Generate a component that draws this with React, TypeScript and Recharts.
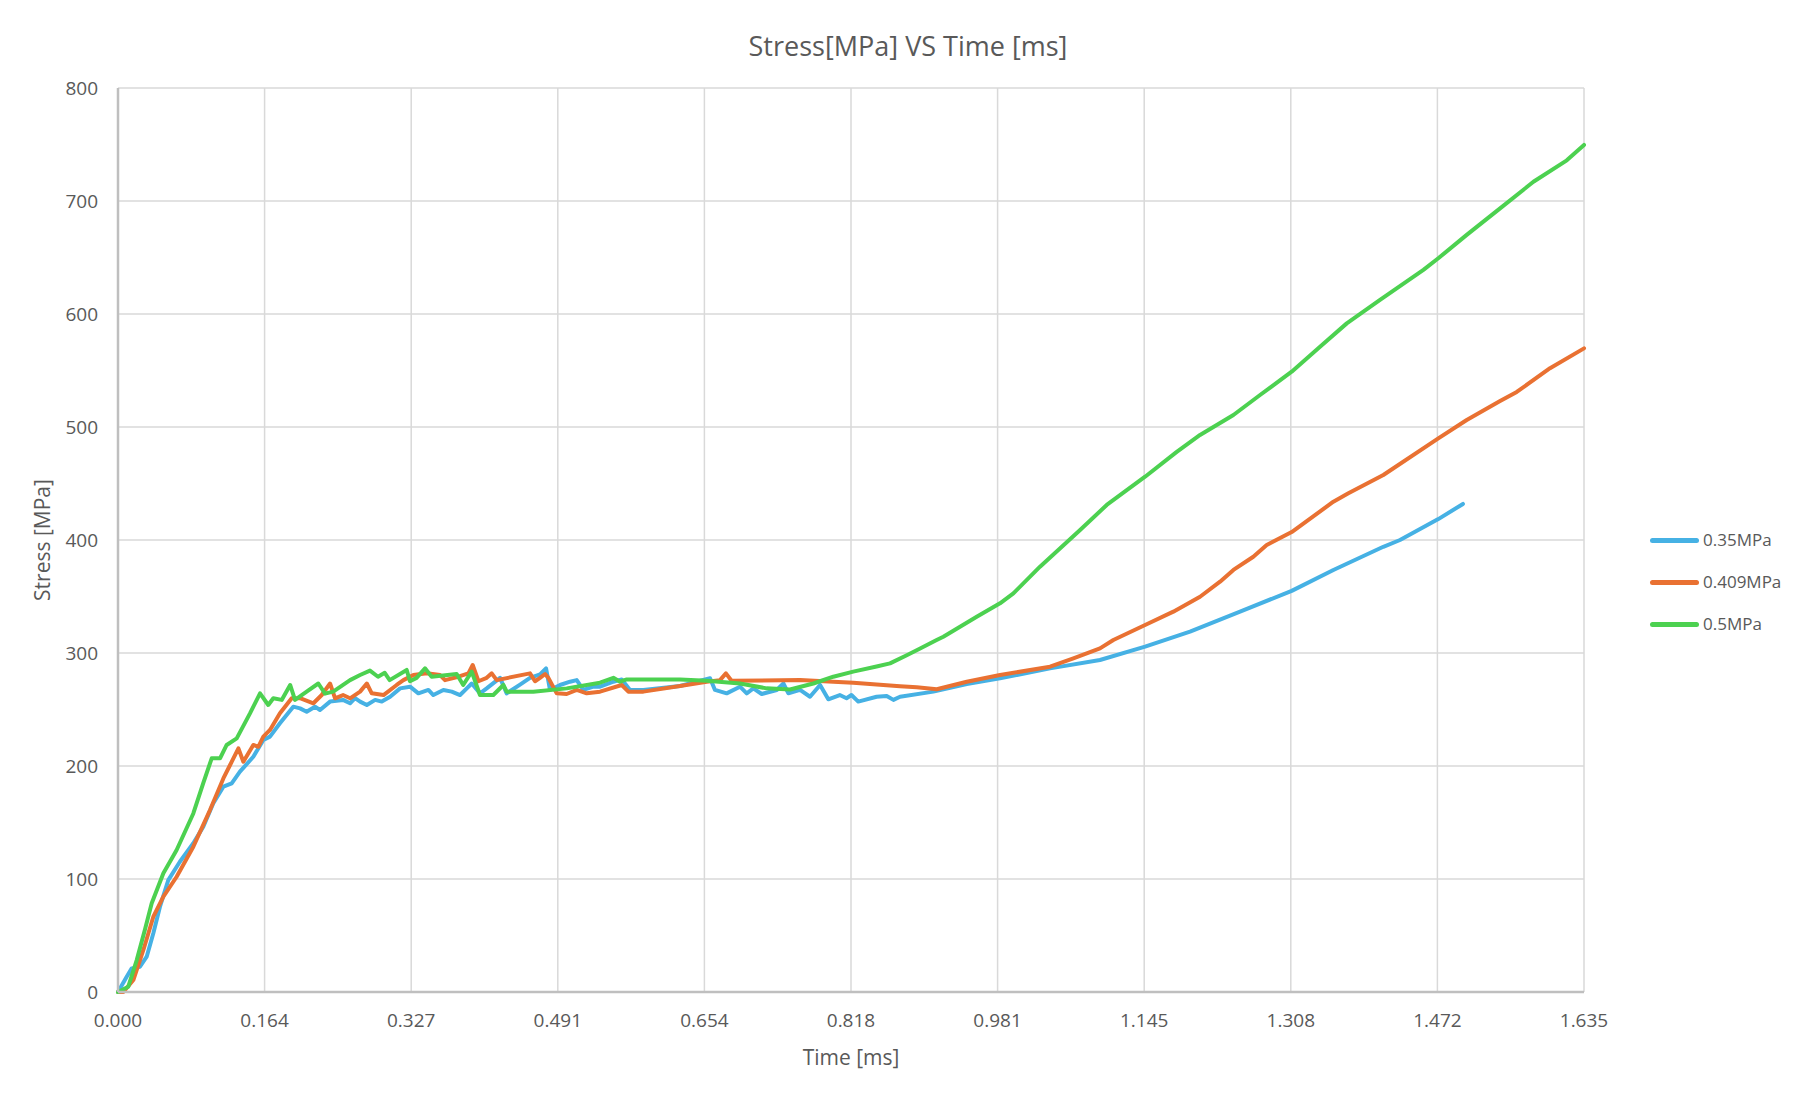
import { LineChart, Line, XAxis, YAxis, CartesianGrid, Label } from "recharts";

// [time ms, stress MPa]
const s035: [number, number][] = [
  [0, 0], [0.0097, 13.5], [0.0153, 20.9], [0.0245, 22.4], [0.032, 31.2], [0.0394, 52], [0.0468, 75.5],
  [0.0561, 99], [0.069, 115.3], [0.084, 131.6], [0.0951, 146.3], [0.1063, 167], [0.1175, 181.7],
  [0.1268, 184.7], [0.136, 195], [0.1509, 208.2], [0.1621, 223], [0.1695, 226], [0.1806, 237.8],
  [0.1955, 252.5], [0.203, 251], [0.2104, 248], [0.2197, 252.5], [0.2253, 249.6], [0.2365, 257],
  [0.251, 258.5], [0.2588, 255.5], [0.2644, 260], [0.27, 257], [0.2775, 254], [0.2868, 258.5],
  [0.2942, 257], [0.3035, 261.3], [0.3146, 268.7], [0.3257, 270.2], [0.335, 264.3], [0.3462, 267.3],
  [0.3517, 262.8], [0.3629, 267.3], [0.3722, 265.8], [0.3815, 262.8], [0.389, 268.7], [0.3945, 273],
  [0.4038, 264.3], [0.4112, 268.7], [0.4261, 278], [0.4335, 264.3], [0.4484, 272], [0.4595, 278],
  [0.4707, 281], [0.4774, 286.4], [0.4818, 267.3], [0.493, 271.7], [0.5042, 274.6], [0.5116, 276],
  [0.519, 267.3], [0.5302, 270.2], [0.5376, 270.2], [0.5525, 274.6], [0.5618, 276.6], [0.571, 267.3],
  [0.5859, 267.3], [0.6268, 270.8], [0.6603, 277.6], [0.6658, 267.3], [0.6788, 264.3], [0.6937, 270.2],
  [0.7012, 264.3], [0.7086, 268.7], [0.7179, 263.7], [0.7347, 267.3], [0.7421, 273], [0.7477, 264.3],
  [0.7607, 267.3], [0.7718, 261.3], [0.783, 271.7], [0.7922, 259], [0.805, 262.8], [0.8125, 260],
  [0.818, 262.8], [0.8256, 257], [0.846, 261.3], [0.8573, 262], [0.8648, 258.5], [0.8722, 261.3],
  [0.9094, 265.8], [0.9466, 272.6], [0.9837, 277.6], [1.0395, 286.4], [1.0952, 293.8], [1.1455, 305.6],
  [1.1956, 318.9], [1.2514, 336.6], [1.309, 355], [1.3555, 373.5], [1.4112, 394], [1.4298, 400],
  [1.4725, 418.5], [1.5, 431.9],
];

const s0409: [number, number][] = [
  [0, 0], [0.006, 0], [0.0171, 10.6], [0.0283, 37.2], [0.0394, 66.6], [0.0506, 84.4], [0.0654, 102],
  [0.084, 128.6], [0.1026, 161], [0.1175, 189], [0.125, 200.9], [0.1343, 215.6], [0.1398, 203.8],
  [0.1509, 218.6], [0.1565, 217], [0.1621, 226], [0.1695, 231.9], [0.1806, 246.6], [0.1937, 260],
  [0.203, 260], [0.2179, 255.5], [0.2272, 262.8], [0.2365, 273], [0.2421, 259.9], [0.251, 262.8],
  [0.2588, 259.9], [0.27, 265.8], [0.2775, 273], [0.283, 264.3], [0.2961, 262.8], [0.3108, 271.7],
  [0.3183, 276], [0.3294, 280.5], [0.3443, 282], [0.3592, 280.5], [0.3647, 276], [0.3796, 279],
  [0.3908, 282], [0.3956, 289.4], [0.402, 275], [0.4112, 278], [0.4168, 282], [0.4224, 276],
  [0.4595, 282], [0.4651, 275], [0.4707, 278], [0.4763, 281.4], [0.48, 278], [0.4893, 264.3],
  [0.5004, 263.7], [0.5116, 267.3], [0.5227, 264.3], [0.5376, 265.8], [0.5618, 271.7], [0.5692, 265.8],
  [0.5859, 265.8], [0.6268, 270.8], [0.6566, 274.6], [0.6714, 276], [0.678, 282], [0.6843, 275.4],
  [0.7607, 276], [0.7978, 274.6], [0.82, 273.7], [0.8722, 270.5], [0.8908, 269.6], [0.9131, 267.9],
  [0.9466, 274.6], [0.9837, 280.5], [1.0395, 287.9], [1.0655, 295.3], [1.0952, 304.1], [1.1101, 311.5],
  [1.1455, 324.8], [1.177, 336.6], [1.2068, 349.8], [1.2291, 363.1], [1.244, 373.5], [1.2662, 385.2],
  [1.2811, 395.6], [1.309, 407], [1.3555, 433.9], [1.3722, 441.3], [1.4112, 457.5], [1.4725, 490],
  [1.5042, 506.2], [1.5414, 523], [1.56, 531], [1.5971, 552], [1.635, 569.6],
];

const s05: [number, number][] = [
  [0, 0], [0.0115, 4.7], [0.0208, 28], [0.03, 55], [0.0376, 78.5], [0.0506, 105], [0.0654, 125.7],
  [0.084, 158], [0.095, 184.7], [0.1045, 206.8], [0.1138, 206.8], [0.1212, 218.6], [0.1324, 224.5],
  [0.1472, 246.6], [0.1584, 264.3], [0.1676, 254], [0.1732, 260], [0.1826, 258.5], [0.192, 271.7],
  [0.1974, 258.5], [0.2104, 265.8], [0.2234, 273], [0.2309, 264], [0.24, 265.8], [0.2588, 276],
  [0.27, 280.5], [0.281, 284.4], [0.29, 279], [0.2975, 282.5], [0.303, 276], [0.322, 285],
  [0.3256, 275], [0.333, 278], [0.3424, 286.4], [0.3498, 279], [0.3777, 281.4], [0.385, 271.7],
  [0.3945, 283.5], [0.4037, 262.8], [0.4186, 262.8], [0.4298, 271.7], [0.4335, 265.8], [0.4632, 265.8],
  [0.5004, 268.7], [0.5376, 273.7], [0.5525, 278], [0.56, 274.6], [0.5674, 276.6], [0.6268, 276.6],
  [0.6566, 275.4], [0.6937, 273], [0.7235, 268.7], [0.7495, 267.7], [0.7755, 273], [0.7978, 279],
  [0.82, 283.5], [0.846, 288], [0.861, 290.8], [0.8797, 298], [0.8946, 304], [0.913, 311.5],
  [0.9205, 314.4], [0.9577, 332], [0.9837, 344], [0.9986, 352.8], [1.0283, 376.4], [1.073, 408.8],
  [1.1027, 431], [1.1455, 456], [1.1808, 478], [1.2068, 493], [1.244, 510.6], [1.2737, 528.3],
  [1.309, 549], [1.3406, 571], [1.3704, 591.7], [1.4075, 612.4], [1.4559, 639], [1.4725, 649.3],
  [1.5042, 670], [1.5414, 693.5], [1.5786, 717], [1.6158, 736], [1.635, 749.6],
];

const seriesNames = ["0.35MPa", "0.409MPa", "0.5MPa"];
const seriesColors = ["#46b1e4", "#e97132", "#4cd150"];
const seriesData = [s035, s0409, s05];

const xTicks = [0, 0.1635, 0.327, 0.4905, 0.654, 0.8175, 0.981, 1.1445, 1.308, 1.4715, 1.635];
const xTickLabels = ["0.000", "0.164", "0.327", "0.491", "0.654", "0.818", "0.981", "1.145", "1.308", "1.472", "1.635"];
const yTicks = [0, 100, 200, 300, 400, 500, 600, 700, 800];

const FONT = "'Open Sans', 'Noto Sans', sans-serif";
const TEXT = "#595959";

const toPoints = (s: [number, number][]) => s.map(([t, v]) => ({ t, v }));

function XTitle(props: any) {
  const vb = props.viewBox || { x: 118, y: 992, width: 1466, height: 108 };
  return (
    <text x={vb.x + vb.width / 2} y={vb.y + 65} textAnchor="middle" dominantBaseline="central"
      fill={TEXT} fontSize={21} fontFamily={FONT}>
      Time [ms]
    </text>
  );
}

function YTitle(props: any) {
  const vb = props.viewBox || { x: 0, y: 88, width: 118, height: 904 };
  const cx = vb.x + 42;
  const cy = vb.y + vb.height / 2;
  return (
    <text x={cx} y={cy} transform={`rotate(-90, ${cx}, ${cy})`} textAnchor="middle" dominantBaseline="central"
      fill={TEXT} fontSize={21} fontFamily={FONT}>
      Stress [MPa]
    </text>
  );
}

export default function App() {
  return (
    <div style={{ position: "absolute", left: 0, top: 0, width: 1816, height: 1100, background: "#fff", fontFamily: FONT }}>
      <div style={{ position: "absolute", left: 0, top: 28, width: 1816, textAlign: "center", fontSize: 27, color: TEXT, lineHeight: "36px" }}>
        Stress[MPa] VS Time [ms]
      </div>
      <LineChart width={1816} height={1100} margin={{ top: 88, right: 232, bottom: 0, left: 0 }}>
        <CartesianGrid stroke="#d9d9d9" strokeWidth={1.5} />
        <XAxis
          type="number"
          dataKey="t"
          domain={[0, 1.635]}
          ticks={xTicks}
          interval={0}
          height={108}
          tickLine={false}
          tickMargin={16}
          axisLine={{ stroke: "#bfbfbf", strokeWidth: 2.5 }}
          tick={{ fill: TEXT, fontSize: 19, fontFamily: FONT }}
          tickFormatter={(v: number, i: number) => xTickLabels[i] ?? String(v)}
        >
          <Label content={<XTitle />} />
        </XAxis>
        <YAxis
          type="number"
          domain={[0, 800]}
          ticks={yTicks}
          interval={0}
          width={118}
          tickLine={false}
          tickMargin={14}
          axisLine={{ stroke: "#bfbfbf", strokeWidth: 2.5 }}
          tick={{ fill: TEXT, fontSize: 19, fontFamily: FONT }}
        >
          <Label content={<YTitle />} />
        </YAxis>
        {seriesData.map((s, i) => (
          <Line
            key={seriesNames[i]}
            data={toPoints(s)}
            dataKey="v"
            name={seriesNames[i]}
            type="linear"
            stroke={seriesColors[i]}
            strokeWidth={4}
            strokeLinejoin="round"
            strokeLinecap="round"
            dot={false}
            activeDot={false}
            isAnimationActive={false}
          />
        ))}
      </LineChart>
      <div style={{ position: "absolute", left: 1650, top: 519 }}>
        {seriesNames.map((name, i) => (
          <div key={name} style={{ display: "flex", alignItems: "center", height: 42 }}>
            <span style={{ display: "inline-block", width: 49, height: 5, borderRadius: 3, background: seriesColors[i] }} />
            <span style={{ marginLeft: 4, fontSize: 17, color: TEXT, lineHeight: "20px" }}>{name}</span>
          </div>
        ))}
      </div>
    </div>
  );
}
